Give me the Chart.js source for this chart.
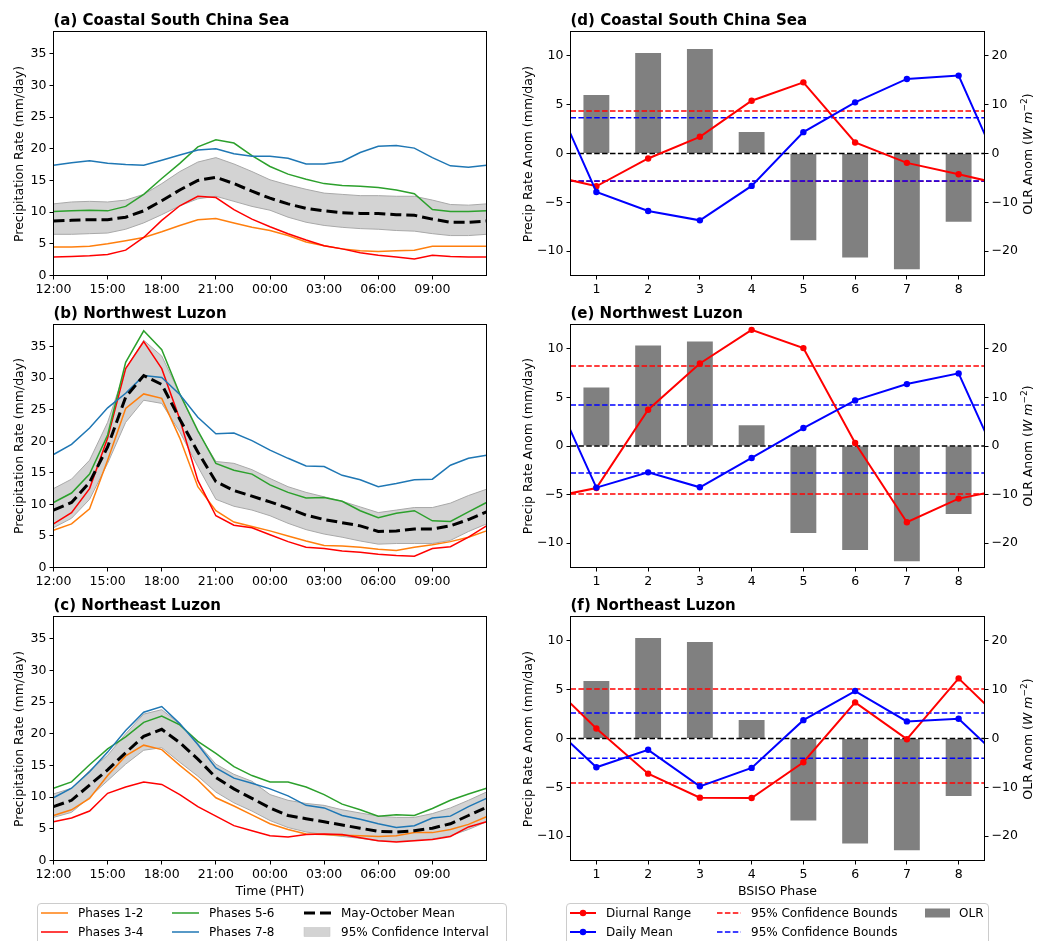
<!DOCTYPE html>
<html><head><meta charset="utf-8">
<script src="https://cdn.jsdelivr.net/npm/chart.js@4.4.0/dist/chart.umd.min.js"></script>
<style>
body{margin:0;width:1057px;height:941px;overflow:hidden;background:#fff;position:relative;font-family:'DejaVu Sans',sans-serif;color:#000}
canvas{position:absolute}
.t{position:absolute;font-weight:bold;font-size:15px;white-space:nowrap;transform:translateY(-50%)}
.yl{position:absolute;font-size:12.5px;white-space:nowrap;transform:translate(-50%,-50%) rotate(-90deg)}
.xl{position:absolute;font-size:12.5px;white-space:nowrap;transform:translate(-50%,-50%)}
.leg{position:absolute;border:1px solid #cccccc;border-radius:4px;background:#fff;box-sizing:border-box}
.lt{position:absolute;font-size:12px;white-space:nowrap;transform:translateY(-50%)}
svg{position:absolute;left:0;top:0}
</style></head><body>
<script>
// ---------- data ----------
const hours = [0,1,2,3,4,5,6,7,8,9,10,11,12,13,14,15,16,17,18,19,20,21,22,23,24];
const timeTickValues = [0,3,6,9,12,15,18,21];
const timeTickLabels = ['12:00','15:00','18:00','21:00','00:00','03:00','06:00','09:00'];
const precipTicks = [0,5,10,15,20,25,30,35];
const phases = [1,2,3,4,5,6,7,8];
const anomTicks = [-10,-5,0,5,10];
const olrTicks = [-20,-10,0,10,20];

// (a) Coastal South China Sea
const a_p12 = [4.5,4.5,4.6,5.0,5.5,6.0,6.9,7.9,8.8,9.0,8.3,7.6,7.1,6.3,5.3,4.7,4.2,3.9,3.8,3.9,4.0,4.6,4.6,4.6,4.6];
const a_p34 = [2.9,3.0,3.1,3.3,4.0,6.0,8.7,11.0,12.5,12.3,10.4,8.9,7.7,6.6,5.6,4.7,4.2,3.6,3.2,2.9,2.6,3.2,3.0,2.9,2.9];
const a_p56 = [10.1,10.2,10.3,10.2,10.9,12.8,15.3,17.7,20.3,21.4,20.9,18.9,17.2,16.0,15.2,14.5,14.2,14.1,13.9,13.5,12.9,10.4,10.1,10.1,10.2];
const a_p78 = [17.4,17.8,18.1,17.7,17.5,17.4,18.2,19.0,19.8,20.0,19.2,18.8,18.8,18.5,17.6,17.6,18.0,19.4,20.4,20.5,20.1,18.6,17.3,17.1,17.4];
const a_mean = [8.6,8.7,8.8,8.8,9.2,10.2,11.8,13.5,15.0,15.5,14.5,13.3,12.2,11.3,10.6,10.2,9.9,9.8,9.8,9.6,9.5,8.9,8.4,8.4,8.6];
const a_hi = [11.3,11.6,11.7,11.6,11.9,12.8,14.5,16.4,17.9,18.6,17.6,16.4,15.1,14.3,13.6,13.0,12.8,12.6,12.6,12.5,12.5,11.9,11.2,11.1,11.3];
const a_lo = [6.5,6.5,6.6,6.7,7.3,8.3,9.6,11.0,12.1,12.5,11.7,10.9,10.3,9.2,8.4,7.9,7.6,7.4,7.3,7.1,7.0,6.6,6.3,6.3,6.5];

// (b) Northwest Luzon
const b_p12 = [5.9,6.9,9.3,17.0,25.2,27.5,26.8,20.5,12.8,9.0,7.2,6.5,5.8,5.0,4.2,3.5,3.4,3.2,2.9,2.7,3.2,3.6,4.1,4.8,5.8];
const b_p34 = [6.9,8.7,12.5,20.5,31.5,35.8,31.5,23.5,13.8,8.2,6.7,6.3,5.2,4.1,3.2,3.0,2.6,2.4,2.1,1.9,1.8,3.0,3.3,4.8,6.6];
const b_p56 = [10.3,11.8,14.8,21.0,32.5,37.5,34.5,27.5,21.7,16.5,15.4,14.8,13.1,11.9,11.0,11.1,10.5,9.0,7.9,8.6,9.0,7.4,7.3,8.8,10.3];
const b_p78 = [17.9,19.5,22.1,25.3,27.6,30.4,30.1,27.4,23.8,21.2,21.3,20.1,18.6,17.3,16.1,16.0,14.6,13.9,12.8,13.3,13.9,14.0,16.2,17.3,17.8];
const b_mean = [9.1,10.3,13.5,19.1,27.0,30.4,29.0,23.5,18.3,13.6,12.2,11.3,10.4,9.4,8.3,7.6,7.1,6.6,5.7,5.8,6.1,6.1,6.6,7.6,8.8];
const b_hi = [12.5,14.0,17.0,23.0,31.5,36.0,33.5,27.5,21.5,16.8,16.5,15.5,14.1,12.8,11.9,11.2,10.5,9.6,8.7,9.1,9.5,9.5,10.2,11.4,12.4];
const b_lo = [6.3,7.8,10.8,16.5,23.0,26.5,26.0,21.5,16.0,10.8,9.7,9.1,8.2,7.0,6.0,5.3,4.8,4.2,3.7,3.8,3.8,3.8,4.3,5.7,6.9];

// (c) Northeast Luzon
const c_p12 = [7.1,8.0,9.8,13.4,16.5,18.2,17.5,15.0,12.7,9.9,8.6,7.2,5.8,4.9,4.2,4.1,4.0,3.9,3.8,3.9,4.4,4.4,4.9,5.7,6.9];
const c_p34 = [6.1,6.7,7.8,10.6,11.6,12.4,12.0,10.4,8.5,7.0,5.5,4.7,3.9,3.7,4.1,4.2,4.1,3.6,3.1,2.9,3.1,3.3,3.8,5.3,6.1];
const c_p56 = [11.4,12.4,15.1,17.6,19.5,21.8,22.8,21.4,18.8,16.9,14.8,13.4,12.4,12.4,11.6,10.4,8.9,8.0,7.0,7.2,7.1,8.2,9.5,10.5,11.4];
const c_p78 = [9.9,11.4,14.0,17.1,20.5,23.4,24.3,21.6,18.3,14.6,13.0,12.2,11.3,10.2,8.7,8.3,7.1,6.5,5.8,5.2,5.5,6.7,7.0,8.5,9.8];
const c_mean = [8.5,9.5,11.9,14.3,17.0,19.6,20.7,18.6,16.0,13.1,11.3,9.8,8.3,7.1,6.6,6.1,5.6,5.1,4.6,4.5,4.7,5.1,5.8,7.1,8.4];
const c_hi = [10.5,11.4,14.2,16.6,20.0,23.1,23.8,21.5,18.5,15.2,13.6,12.5,10.4,9.5,9.0,8.7,8.0,7.5,7.0,6.8,6.8,7.4,8.3,9.5,10.8];
const c_lo = [6.8,7.6,10.0,12.6,15.2,17.4,17.8,15.5,13.3,10.8,9.1,7.8,6.3,5.2,4.5,4.1,3.8,3.5,3.1,3.0,3.2,3.4,3.9,4.9,6.1];

// (d)-(f) BSISO phase composites
const d_range = [-3.36,-0.51,1.71,5.41,7.29,1.13,-0.96,-2.12];
const d_mean = [-3.94,-5.89,-6.85,-3.32,2.19,5.24,7.64,7.98];
const d_olr = [12.0,20.6,21.4,4.4,-17.8,-21.3,-23.7,-14.0];
const d_rangeCI = [4.35,-2.85];
const d_meanCI = [3.66,-2.81];

const e_range = [-4.32,3.73,8.49,11.95,10.07,0.31,-7.84,-5.41];
const e_mean = [-4.28,-2.71,-4.25,-1.23,1.85,4.69,6.37,7.47];
const e_olr = [12.05,20.7,21.5,4.25,-17.9,-21.4,-23.7,-14.0];
const e_rangeCI = [8.22,-4.93];
const e_meanCI = [4.21,-2.77];

const f_range = [1.03,-3.60,-6.06,-6.10,-2.43,3.70,-0.07,6.16];
const f_mean = [-2.95,-1.16,-4.90,-3.01,1.88,4.86,1.75,2.02];
const f_olr = [11.8,20.6,19.8,3.8,-16.8,-21.5,-22.9,-11.8];
const f_rangeCI = [5.07,-4.55];
const f_meanCI = [2.60,-2.02];

// ---------- setup ----------
Chart.defaults.font.family = "'DejaVu Sans', sans-serif";
Chart.defaults.font.size = 12.5;
Chart.defaults.color = '#000';
Chart.defaults.elements.line.tension = 0;
Chart.register({id:'frame', afterDatasetsDraw(c){const a=c.chartArea,x=c.ctx;x.save();x.strokeStyle='#000';x.lineWidth=1;x.strokeRect(a.left,a.top,a.right-a.left,a.bottom-a.top);x.restore();}});

const minus = v => v < 0 ? '\u2212' + Math.abs(v) : String(v);
function mk(left, top, w, h){const c=document.createElement('canvas');c.width=w;c.height=h;c.style.left=left+'px';c.style.top=top+'px';c.style.width=w+'px';c.style.height=h+'px';document.body.appendChild(c);return c;}
function div(cls, html, left, top){const d=document.createElement('div');d.className=cls;d.innerHTML=html;d.style.left=left+'px';d.style.top=top+'px';document.body.appendChild(d);return d;}
const tickGrid = {drawOnChartArea:false, drawTicks:true, tickLength:4, color:'#000', lineWidth:1};

const rows = [{ct:10, top:31.5, bottom:275.5},{ct:303, top:324.5, bottom:567.5},{ct:595, top:616.5, bottom:860.5}];

function leftPanel(row, d){
  const H=300, cv = mk(0,row.ct,500,H);
  const padTop = row.top-row.ct, xH = H-padTop-(row.bottom-row.top);
  const pts = a => hours.map((h,i)=>({x:h,y:a[i]}));
  const ln = (a,c,w)=>({data:pts(a),borderColor:c,borderWidth:w,pointRadius:0,fill:false});
  const mean = ln(d.mean,'#000',3); mean.borderDash=[11,5];
  const lo = ln(d.lo,'#a9a9a9',1);
  const hi = ln(d.hi,'#a9a9a9',1); hi.fill='-1'; hi.backgroundColor='#d3d3d3';
  new Chart(cv,{type:'line',data:{datasets:[mean, ln(d.p78,'#1f77b4',1.5), ln(d.p56,'#2ca02c',1.5), ln(d.p34,'#ff0000',1.5), ln(d.p12,'#ff7f0e',1.5), lo, hi]},
    options:{responsive:false,animation:false,devicePixelRatio:1,events:[],
      layout:{padding:{top:padTop,left:0,right:13.5,bottom:0}},
      plugins:{legend:{display:false},tooltip:{enabled:false}},
      scales:{
        x:{type:'linear',min:0,max:24,afterFit:s=>{s.height=xH;},afterBuildTicks:s=>{s.ticks=timeTickValues.map(v=>({value:v}));},
           ticks:{callback:(v,i)=>timeTickLabels[i],maxRotation:0,autoSkip:false,padding:3},grid:tickGrid,border:{display:false}},
        y:{min:0,max:38.5,afterFit:s=>{s.width=53.5;},afterBuildTicks:s=>{s.ticks=precipTicks.map(v=>({value:v}));},
           ticks:{callback:v=>minus(v),padding:3},grid:tickGrid,border:{display:false}}
      }}});
}

function rightPanel(row, d){
  const H=300, cv = mk(510,row.ct,547,H);
  const padTop = row.top-row.ct, xH = H-padTop-(row.bottom-row.top);
  const cyc = a => [a[a.length-1], ...a, a[0]];
  const cx = [phases[0]-1, ...phases, phases[phases.length-1]+1];
  const cpts = a => cyc(a).map((v,i)=>({x:cx[i],y:v}));
  const x0 = phases[0]-0.5, x1 = phases[phases.length-1]+0.5;
  const ln = (a,c)=>({data:cpts(a),borderColor:c,backgroundColor:c,pointBackgroundColor:c,pointBorderColor:c,borderWidth:2,pointRadius:3.2,pointBorderWidth:0,yAxisID:'y'});
  const hl = (v,c)=>({data:[{x:x0,y:v},{x:x1,y:v}],borderColor:c,borderWidth:1.5,borderDash:[5.5,2.4],pointRadius:0,yAxisID:'y'});
  new Chart(cv,{type:'line',data:{datasets:[
      ln(d.mean,'#0000ff'), ln(d.range,'#ff0000'),
      hl(d.meanCI[0],'#0000ff'), hl(d.meanCI[1],'#0000ff'),
      hl(d.rangeCI[0],'#ff0000'), hl(d.rangeCI[1],'#ff0000'),
      hl(0,'#000000'),
      {type:'bar',data:phases.map((p,i)=>({x:p,y:d.olr[i]})),backgroundColor:'#808080',borderWidth:0,yAxisID:'y2',barPercentage:0.5,categoryPercentage:1}
    ]},
    options:{responsive:false,animation:false,devicePixelRatio:1,events:[],
      layout:{padding:{top:padTop,left:0,right:0,bottom:0}},
      plugins:{legend:{display:false},tooltip:{enabled:false}},
      scales:{
        x:{type:'linear',min:x0,max:x1,offset:false,afterFit:s=>{s.height=xH;},afterBuildTicks:s=>{s.ticks=phases.map(v=>({value:v}));},
           ticks:{maxRotation:0,autoSkip:false,padding:3},grid:Object.assign({offset:false},tickGrid),border:{display:false}},
        y:{position:'left',min:-12.5,max:12.5,afterFit:s=>{s.width=60.5;},afterBuildTicks:s=>{s.ticks=anomTicks.map(v=>({value:v}));},
           ticks:{callback:v=>minus(v),padding:3},grid:tickGrid,border:{display:false}},
        y2:{position:'right',min:-25,max:25,afterFit:s=>{s.width=72.5;},afterBuildTicks:s=>{s.ticks=olrTicks.map(v=>({value:v}));},
           ticks:{callback:v=>minus(v),padding:3},grid:tickGrid,border:{display:false}}
      }}});
}

leftPanel(rows[0],{p12:a_p12,p34:a_p34,p56:a_p56,p78:a_p78,mean:a_mean,hi:a_hi,lo:a_lo});
leftPanel(rows[1],{p12:b_p12,p34:b_p34,p56:b_p56,p78:b_p78,mean:b_mean,hi:b_hi,lo:b_lo});
leftPanel(rows[2],{p12:c_p12,p34:c_p34,p56:c_p56,p78:c_p78,mean:c_mean,hi:c_hi,lo:c_lo});
rightPanel(rows[0],{range:d_range,mean:d_mean,olr:d_olr,rangeCI:d_rangeCI,meanCI:d_meanCI});
rightPanel(rows[1],{range:e_range,mean:e_mean,olr:e_olr,rangeCI:e_rangeCI,meanCI:e_meanCI});
rightPanel(rows[2],{range:f_range,mean:f_mean,olr:f_olr,rangeCI:f_rangeCI,meanCI:f_meanCI});

// ---------- text ----------
const leftTitles = ['(a) Coastal South China Sea','(b) Northwest Luzon','(c) Northeast Luzon'];
const rightTitles = ['(d) Coastal South China Sea','(e) Northwest Luzon','(f) Northeast Luzon'];
rows.forEach((r,i)=>{
  div('t',leftTitles[i],53.5,r.top-12);
  div('t',rightTitles[i],570.5,r.top-12);
  const cy=(r.top+r.bottom)/2;
  div('yl','Precipitation Rate (mm/day)',18,cy);
  div('yl','Precip Rate Anom (mm/day)',526.7,cy);
  div('yl','OLR Anom (<i>W m</i><sup style="font-size:9px">\u22122</sup>)',1026.7,cy);
});
div('xl','Time (PHT)',270,890);
div('xl','BSISO Phase',777.5,890);

// ---------- legends ----------
const lb1=div('leg','',37,903); lb1.style.width='470px'; lb1.style.height='50px';
const lb2=div('leg','',566,903); lb2.style.width='423px'; lb2.style.height='50px';
const NS='http://www.w3.org/2000/svg';
const svg=document.createElementNS(NS,'svg'); svg.setAttribute('width',1057); svg.setAttribute('height',941);
document.body.appendChild(svg);
function sv(tag,attrs){const e=document.createElementNS(NS,tag);for(const k in attrs)e.setAttribute(k,attrs[k]);svg.appendChild(e);return e;}
function lline(x1,x2,y,c,w,dash){const a={x1,x2,y1:y,y2:y,stroke:c,'stroke-width':w};if(dash)a['stroke-dasharray']=dash;sv('line',a);}
// left legend
lline(41,68,913,'#ff7f0e',1.5); div('lt','Phases 1-2',78,913);
lline(41,68,932,'#ff0000',1.5); div('lt','Phases 3-4',78,932);
lline(172,199,913,'#2ca02c',1.5); div('lt','Phases 5-6',209,913);
lline(172,199,932,'#1f77b4',1.5); div('lt','Phases 7-8',209,932);
lline(304,331,913,'#000',3,'11 5'); div('lt','May-October Mean',341,913);
sv('rect',{x:304,y:927.5,width:26,height:9,fill:'#d3d3d3',stroke:'#c0c0c0','stroke-width':0.5}); div('lt','95% Confidence Interval',341,932);
// right legend
lline(570,596,913,'#ff0000',2); sv('circle',{cx:583,cy:913,r:3.2,fill:'#ff0000'}); div('lt','Diurnal Range',606,913);
lline(570,596,932,'#0000ff',2); sv('circle',{cx:583,cy:932,r:3.2,fill:'#0000ff'}); div('lt','Daily Mean',606,932);
lline(717,741,913,'#ff0000',1.5,'5.5 2.4'); div('lt','95% Confidence Bounds',751,913);
lline(717,741,932,'#0000ff',1.5,'5.5 2.4'); div('lt','95% Confidence Bounds',751,932);
sv('rect',{x:925,y:908.5,width:25,height:9,fill:'#808080'}); div('lt','OLR',959,913);
</script>
</body></html>
